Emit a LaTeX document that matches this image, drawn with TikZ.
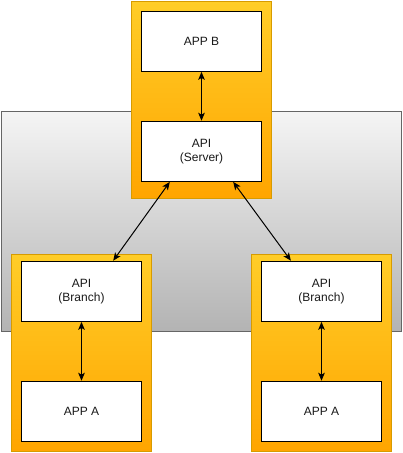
\documentclass[tikz,border=0pt]{standalone}
\usepackage{fontspec}
\setmainfont{Liberation Sans}
\usetikzlibrary{arrows.meta}
\definecolor{grayTop}{HTML}{F5F5F5}
\definecolor{grayBot}{HTML}{B3B3B3}
\definecolor{grayLine}{HTML}{666666}
\definecolor{orTop}{HTML}{FFCD28}
\definecolor{orBot}{HTML}{FFA500}
\definecolor{orLine}{HTML}{D79B00}
\definecolor{txt}{HTML}{1A1A1A}
\begin{document}
\begin{tikzpicture}[x=0.75pt,y=-0.75pt,
  zone/.style={draw=grayLine, line width=0.75pt, top color=grayTop, bottom color=grayBot},
  cont/.style={draw=orLine, line width=0.75pt, top color=orTop, bottom color=orBot},
  box/.style={draw=black, line width=0.9pt, fill=white, minimum width=120*0.75pt, minimum height=60*0.75pt, inner sep=0pt, align=center, font=\fontsize{9}{10.5}\selectfont, text=txt},
  link/.style={line width=0.75pt, {Stealth[length=6pt,width=5pt,inset=1.5pt]}-{Stealth[length=6pt,width=5pt,inset=1.5pt]}}
]
\useasboundingbox (0,0) rectangle (403,453);
\path[zone] (1.7,111.3) rectangle (401.7,331);
\path[cont] (131.5,1.5) rectangle (271.5,198);
\path[cont] (11.3,254) rectangle (151.7,451);
\path[cont] (251.3,254) rectangle (391.7,451);
\node[box] (appb) at (201.5,41.3) {APP B};
\node[box] (srv) at (201.5,151.3) {API\\(Server)};
\node[box] (lb) at (81.5,291.3) {API\\(Branch)};
\node[box] (la) at (81.5,411.3) {APP A};
\node[box] (rb) at (321.5,291.3) {API\\(Branch)};
\node[box] (ra) at (321.5,411.3) {APP A};
\draw[link] (appb.south) -- (srv.north);
\draw[link] (lb.south) -- (la.north);
\draw[link] (rb.south) -- (ra.north);
\draw[link] (srv.-136) -- (lb.44);
\draw[link] (srv.-44) -- (rb.135);
\end{tikzpicture}
\end{document}
